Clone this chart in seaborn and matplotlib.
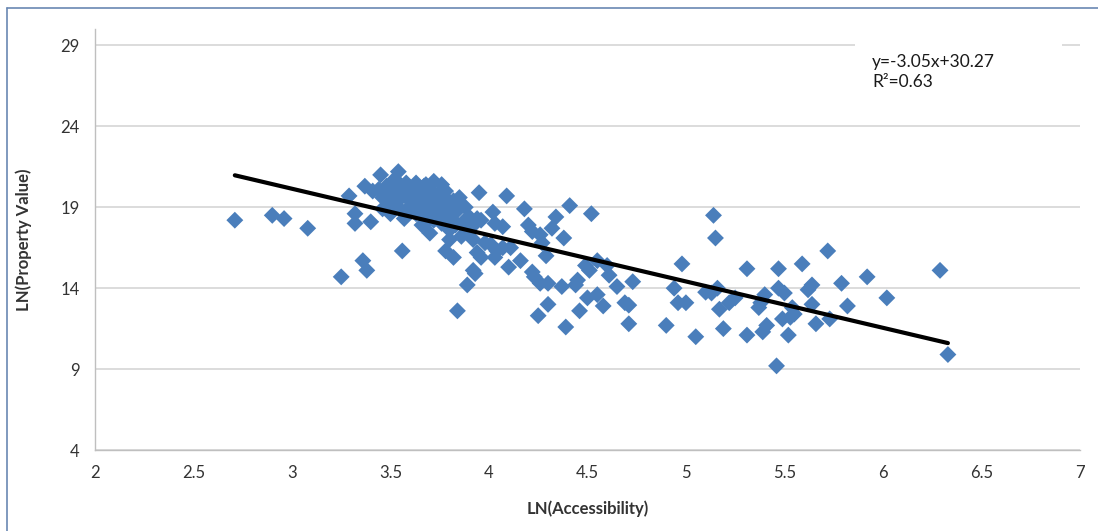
import matplotlib
matplotlib.use("Agg")
import matplotlib.pyplot as plt
import seaborn as sns
import numpy as np
import pandas as pd
from matplotlib.patches import Rectangle
from matplotlib.lines import Line2D

# ---- data ----
accessibility = [
    # left / outliers
    2.71, 2.90, 2.96, 3.08, 3.25, 3.29, 3.32, 3.32, 3.36, 3.38, 3.37, 3.40, 3.45, 3.54, 3.56, 3.84, 3.89, 3.93, 3.41,
    # dense cluster
    3.44, 3.46, 3.47, 3.48, 3.49, 3.50, 3.51, 3.52, 3.53, 3.54, 3.55, 3.56, 3.57, 3.58, 3.59, 3.60, 3.61, 3.62,
    3.63, 3.64, 3.65, 3.66, 3.67, 3.68, 3.69, 3.70, 3.71, 3.72, 3.73, 3.74, 3.75, 3.76, 3.77, 3.78, 3.79, 3.80,
    3.81, 3.82, 3.83, 3.84, 3.86, 3.87, 3.88, 3.89, 3.90, 3.92, 3.93, 3.46, 3.50, 3.53, 3.57, 3.60, 3.63, 3.66,
    3.70, 3.74, 3.78, 3.85, 3.58, 3.62, 3.68, 3.72,
    # around the cluster
    3.70, 3.66, 3.80, 3.78, 3.82, 3.94, 3.92, 3.68, 3.76,
    # 4.0 - 4.7
    3.95, 4.09, 4.18, 4.41, 4.52, 4.02, 3.94, 3.96, 4.03, 4.07, 4.20, 4.22, 4.34, 4.32, 4.26, 4.27, 4.38,
    3.98, 4.01, 4.04, 4.07, 4.11, 3.96, 4.03, 4.10, 4.16, 4.22, 4.23, 4.26, 4.30, 4.29, 4.37, 4.44, 4.45,
    4.49, 4.51, 4.55, 4.60, 4.61, 4.50, 4.55, 4.58, 4.65, 4.69, 4.71, 4.30, 4.25, 4.46, 4.39,
    # 4.7 - 5.6
    5.14, 5.15, 4.98, 4.73, 4.94, 4.96, 5.00, 4.71, 4.90, 5.05, 5.10, 5.13, 5.16, 5.17, 5.19, 5.22, 5.25,
    5.31, 5.31, 5.37, 5.38, 5.40, 5.39, 5.41, 5.47, 5.47, 5.50, 5.49, 5.53, 5.52, 5.46, 5.54, 5.59,
    # 5.6 - 6.4
    5.72, 6.29, 6.33, 5.92, 5.79, 5.64, 5.62, 6.02, 5.82, 5.64, 5.73, 5.66, 5.55,
]
property_value = [
    18.2, 18.5, 18.3, 17.7, 14.7, 19.7, 18.6, 18.0, 15.7, 15.1, 20.3, 18.1, 21.0, 21.2, 16.3, 12.6, 14.2, 14.9, 20.0,
    20.1, 19.6, 19.9, 20.3, 19.2, 19.8, 20.6, 19.4, 20.0, 19.0, 20.4, 19.7, 20.1, 18.8, 19.5, 20.2, 19.1, 19.8,
    18.6, 20.0, 19.4, 18.9, 20.3, 19.6, 18.4, 19.9, 19.0, 18.2, 19.5, 18.7, 19.2, 18.0, 19.7, 18.5, 19.0, 17.6,
    18.3, 19.4, 17.9, 18.8, 17.2, 18.1, 19.0, 17.5, 18.4, 17.0, 18.0, 18.9, 18.6, 19.3, 18.3, 19.6, 20.5, 19.9,
    20.1, 19.8, 20.0, 19.6, 20.5, 19.2, 18.0, 20.6,
    17.4, 17.9, 17.0, 16.3, 15.9, 16.2, 15.1, 20.4, 20.4,
    19.9, 19.7, 18.9, 19.1, 18.6, 18.7, 18.3, 18.2, 18.0, 17.8, 17.9, 17.5, 18.4, 17.7, 17.3, 16.8, 17.1,
    16.8, 16.7, 16.3, 16.5, 16.5, 15.9, 15.9, 15.3, 15.7, 15.0, 14.7, 14.3, 14.3, 16.0, 14.1, 14.2, 14.5,
    15.4, 15.1, 15.7, 15.4, 14.8, 13.4, 13.6, 12.9, 14.1, 13.1, 11.8, 13.0, 12.3, 12.6, 11.6,
    18.5, 17.1, 15.5, 14.4, 14.0, 13.1, 13.1, 12.95, 11.7, 11.0, 13.75, 13.7, 14.0, 12.7, 11.5, 13.1, 13.4,
    15.2, 11.1, 12.8, 13.1, 13.6, 11.3, 11.7, 15.2, 14.0, 13.7, 12.1, 12.2, 11.1, 9.2, 12.8, 15.5,
    16.3, 15.1, 9.9, 14.7, 14.3, 14.2, 13.9, 13.4, 12.9, 13.0, 12.1, 11.8, 12.4,
]
x_ticks = [2, 2.5, 3, 3.5, 4, 4.5, 5, 5.5, 6, 6.5, 7]
x_tick_labels = ["2", "2.5", "3", "3.5", "4", "4.5", "5", "5.5", "6", "6.5", "7"]
y_ticks = [4, 9, 14, 19, 24, 29]
y_tick_labels = ["4", "9", "14", "19", "24", "29"]
equation_text = "y=-3.05x+30.27\nR\u00b2=0.63"

df = pd.DataFrame({"LN(Accessibility)": accessibility, "LN(Property Value)": property_value})

sns.set_style("white")
plt.rcParams["font.family"] = ["Lato", "DejaVu Sans"]

fig = plt.figure(figsize=(10.98, 5.31), dpi=100)
ax = fig.add_axes([0.0865, 0.1525, 0.897, 0.7925])
ax.set_axisbelow(True)

sns.regplot(
    data=df, x="LN(Accessibility)", y="LN(Property Value)", ax=ax, ci=None, marker="D",
    scatter_kws=dict(s=74, color="#4A7EBB", edgecolor="none", alpha=1, zorder=3),
    line_kws=dict(color="black", lw=3.0, zorder=4),
)

ax.set_xlim(2, 7)
ax.set_ylim(4, 30)
ax.set_xticks(x_ticks)
ax.set_xticklabels(x_tick_labels)
ax.set_yticks(y_ticks)
ax.set_yticklabels(y_tick_labels)
ax.grid(axis="y", color="#D9D9D9", lw=1.3)
ax.grid(axis="x", visible=False)
for s in ["top", "right"]:
    ax.spines[s].set_visible(False)
for s in ["left", "bottom"]:
    ax.spines[s].set_color("#BFBFBF")
    ax.spines[s].set_linewidth(1.0)
ax.tick_params(axis="both", direction="out", length=5, width=1, color="#BFBFBF",
               labelsize=12, labelcolor="#333333", pad=6)

ax.set_xlabel("LN(Accessibility)", fontsize=12, fontweight="bold", color="#333333")
ax.set_ylabel("LN(Property Value)", fontsize=12, fontweight="bold", color="#333333")
ax.yaxis.set_label_coords(-0.064, 0.5)
ax.xaxis.set_label_coords(0.5, -0.119)

# white box behind the equation (covers the gridline like in the reference)
ax.add_patch(Rectangle((0.772, 0.80), 0.21, 0.21, transform=ax.transAxes,
                       facecolor="white", edgecolor="none", zorder=1, clip_on=False))
ax.text(0.789, 0.94, equation_text, transform=ax.transAxes, ha="left", va="top",
        fontsize=12.5, color="#1a1a1a", linespacing=1.3, zorder=5)

# outer chart border
fig.add_artist(Line2D([0.0064, 0.0064], [0.0, 0.985], transform=fig.transFigure, color="#6A88B3", lw=1.2))
fig.add_artist(Line2D([0.0064, 1.0], [0.985, 0.985], transform=fig.transFigure, color="#6A88B3", lw=1.2))

fig.savefig("out.png", dpi=100, facecolor="white")
